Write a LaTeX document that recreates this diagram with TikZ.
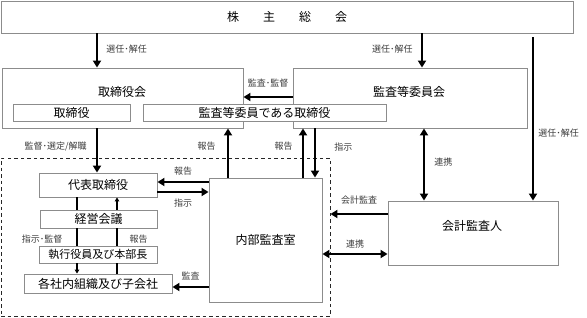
\documentclass[tikz,border=0pt]{standalone}
\usepackage{fontspec}
\setmainfont{Noto Sans CJK JP}
\usetikzlibrary{arrows.meta, positioning}
\definecolor{waku}{RGB}{140,140,140}
\definecolor{moji}{RGB}{60,60,60}
\tikzset{
  hako/.style={rectangle, draw=waku, fill=white, line width=0.9pt,
    inner sep=0pt, align=center, font=\fontsize{12}{14}\selectfont},
  midashi/.style={inner sep=0pt, font=\fontsize{12}{14}\selectfont},
  hasen/.style={rectangle, draw=black!85, line width=0.9pt,
    dash pattern=on 3.5pt off 3pt, inner sep=0pt},
  yajirushi/.style={-{Triangle[length=7pt,width=8pt]}, line width=2.6pt},
  soho/.style={{Triangle[length=7pt,width=8pt]}-{Triangle[length=7pt,width=8pt]},
    line width=2.6pt},
  hosoi/.style={line width=1.2pt},
  hosoya/.style={hosoi, -{Triangle[length=4pt,width=4.5pt]}},
  etiq/.style={inner sep=0pt, font=\fontsize{9}{10}\selectfont, text=moji}
}

\begin{document}
\begin{tikzpicture}[x=1pt, y=-1pt]
  \useasboundingbox (0,0) rectangle (587,317);
  % 枠
  \node[hasen, minimum width=329pt, minimum height=158pt] (grp) at (165.5,237) {};
  \node[hako, minimum width=572pt, minimum height=32pt] (soukai) at (287,17)
    {株　　主　　総　　会};
  \node[hako, minimum width=241pt, minimum height=60pt] (torikai) at (122.5,98) {};
  \node[midashi] (torikaiT) at (122,92) {取締役会};
  \node[hako, minimum width=234pt, minimum height=60pt] (kansa) at (410,98) {};
  \node[midashi] (kansaT) at (409,92) {監査等委員会};
  \node[hako, minimum width=117pt, minimum height=17pt] (tori) at (71.5,113) {取締役};
  \node[hako, minimum width=243pt, minimum height=17pt] (kansatori) at (264.5,113)
    {監査等委員である取締役};
  \node[hako, minimum width=118pt, minimum height=24pt] (daihyo) at (98,185) {代表取締役};
  \node[hako, minimum width=117pt, minimum height=18pt] (keiei) at (98.5,219) {経営会議};
  \node[hako, minimum width=118pt, minimum height=17pt,
    font=\fontsize{11}{13}\selectfont] (shikkou) at (98,254.5) {執行役員及び本部長};
  \node[hako, minimum width=148pt, minimum height=19pt] (kakusha) at (98,283.5)
    {各社内組織及び子会社};
  \node[hako, minimum width=113pt, minimum height=124pt] (naibu) at (265.5,240) {内部監査室};
  \node[hako, minimum width=170pt, minimum height=64pt] (kaikei) at (473,233) {};
  \node[midashi] (kaikeiT) at (472,226) {会計監査人};

  % 太い矢印
  \draw[yajirushi] (soukai.south -| 97,0) -- node[etiq, right=8pt, pos=0.45]{選任･解任}
    (torikai.north -| 97,0);
  \draw[yajirushi] (soukai.south -| 422,0) -- node[etiq, left=8pt, pos=0.45]{選任･解任}
    (kansa.north -| 422,0);
  \draw[yajirushi] ([yshift=-4pt]soukai.south -| 533,0) --
    node[etiq, right=4pt, pos=0.585]{選任･解任} (kaikei.north -| 533,0);
  \draw[yajirushi] (kansa.west |- 0,97) -- node[etiq, above=8pt]{監査･監督} (torikai.east |- 0,97);
  \draw[yajirushi] (torikai.south -| 97,0) -- node[etiq, left=9pt, pos=0.4]{監督･選定/解職}
    (daihyo.north -| 97,0);
  \draw[yajirushi] (naibu.north -| 228,0) -- node[etiq, left=11pt, pos=0.64]{報告}
    (torikai.south -| 228,0);
  \draw[yajirushi] (naibu.north -| 303,0) -- node[etiq, left=9pt, pos=0.64]{報告}
    (kansa.south -| 303,0);
  \draw[yajirushi] (kansa.south -| 315,0) -- node[etiq, right=18pt, pos=0.38]{指示}
    (naibu.north -| 315,0);
  \draw[soho] (kansa.south -| 424,0) -- node[etiq, right=9pt, pos=0.47]{連携}
    (kaikei.north -| 424,0);
  \draw[yajirushi] (kaikei.west |- 0,214) -- node[etiq, above=8pt]{会計監査} (grp.east |- 0,214);
  \draw[soho] (naibu.east |- 0,254) -- node[etiq, above=4pt]{連携} (kaikei.west |- 0,254);
  \draw[yajirushi] (naibu.west |- 0,182) -- node[etiq, above=5pt]{報告} (daihyo.east |- 0,182);
  \draw[yajirushi] (daihyo.east |- 0,192) -- node[etiq, below=6pt]{指示} (naibu.west |- 0,192);
  \draw[yajirushi] (naibu.west |- 0,287) -- node[etiq, above=6pt]{監査} (kakusha.east |- 0,287);

  % 細い矢印
  \draw[hosoi] (daihyo.south -| 77,0) -- (keiei.north -| 77,0);
  \draw[hosoi] (keiei.south -| 77,0) -- node[etiq, left=14pt, pos=0.6]{指示･監督}
    (shikkou.north -| 77,0);
  \draw[hosoya] (shikkou.south -| 77,0) -- (kakusha.north -| 77,0);
  \draw[hosoi] (kakusha.north -| 117,0) -- (shikkou.south -| 117,0);
  \draw[hosoi] (shikkou.north -| 117,0) -- node[etiq, right=12pt, pos=0.4]{報告}
    (keiei.south -| 117,0);
  \draw[hosoya] (keiei.north -| 117,0) -- (daihyo.south -| 117,0);
\end{tikzpicture}
\end{document}
